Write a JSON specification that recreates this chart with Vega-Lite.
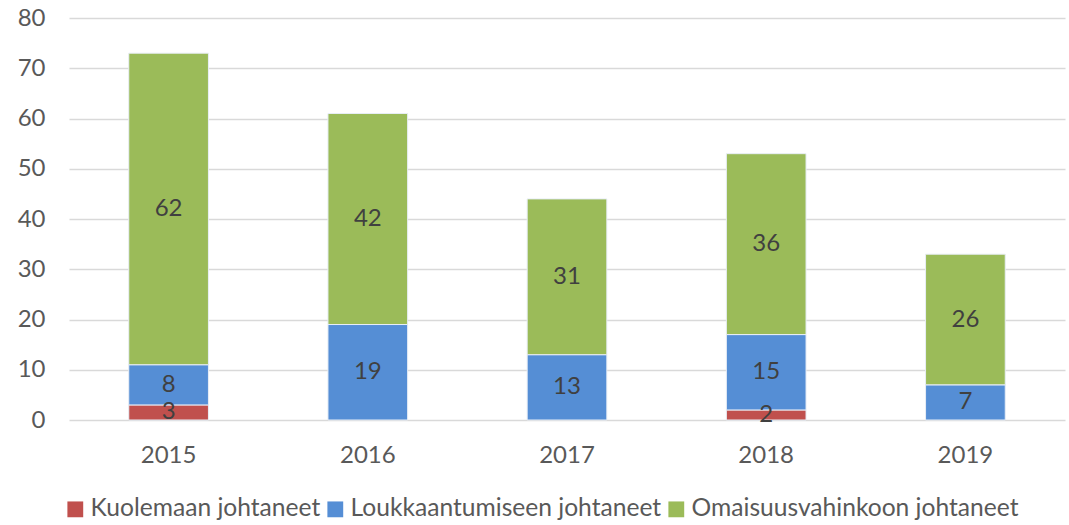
{
  "$schema": "https://vega.github.io/schema/vega-lite/v6.json",
  "width": 996,
  "height": 402,
  "autosize": {"type": "none"},
  "padding": {"left": 69, "top": 18, "right": 4, "bottom": 105},
  "background": "white",
  "config": {
    "font": "Lato",
    "view": {"stroke": null}
  },
  "data": {
    "values": [
      {"year": "2015", "type": "Kuolemaan johtaneet", "value": 3},
      {"year": "2015", "type": "Loukkaantumiseen johtaneet", "value": 8},
      {"year": "2015", "type": "Omaisuusvahinkoon johtaneet", "value": 62},
      {"year": "2016", "type": "Loukkaantumiseen johtaneet", "value": 19},
      {"year": "2016", "type": "Omaisuusvahinkoon johtaneet", "value": 42},
      {"year": "2017", "type": "Loukkaantumiseen johtaneet", "value": 13},
      {"year": "2017", "type": "Omaisuusvahinkoon johtaneet", "value": 31},
      {"year": "2018", "type": "Kuolemaan johtaneet", "value": 2},
      {"year": "2018", "type": "Loukkaantumiseen johtaneet", "value": 15},
      {"year": "2018", "type": "Omaisuusvahinkoon johtaneet", "value": 36},
      {"year": "2019", "type": "Loukkaantumiseen johtaneet", "value": 7},
      {"year": "2019", "type": "Omaisuusvahinkoon johtaneet", "value": 26}
    ]
  },
  "transform": [
    {"stack": "value", "groupby": ["year"], "sort": [{"field": "type", "order": "ascending"}], "as": ["v0", "v1"]},
    {"calculate": "(datum.v0 + datum.v1) / 2", "as": "mid"}
  ],
  "layer": [
    {
      "mark": {"type": "bar", "stroke": "#e8eef6", "strokeWidth": 1},
      "encoding": {
        "x": {
          "field": "year", "type": "nominal",
          "scale": {"paddingInner": 0.6, "paddingOuter": 0.3},
          "axis": {"title": null, "labelAngle": 0, "labelFontSize": 24, "labelColor": "#595959", "labelPadding": 23, "ticks": false, "domain": false, "labelFont": "Lato"}
        },
        "y": {
          "field": "v0", "type": "quantitative",
          "scale": {"domain": [0, 80]},
          "axis": {"title": null, "values": [0, 10, 20, 30, 40, 50, 60, 70, 80], "labelFontSize": 24, "labelColor": "#595959", "labelPadding": 24, "ticks": false, "domain": false, "gridColor": "#d9d9d9", "gridWidth": 1.5, "labelFont": "Lato"}
        },
        "y2": {"field": "v1"},
        "color": {
          "field": "type", "type": "nominal",
          "scale": {
            "domain": ["Kuolemaan johtaneet", "Loukkaantumiseen johtaneet", "Omaisuusvahinkoon johtaneet"],
            "range": ["#c0504d", "#558ed5", "#9bbb59"]
          },
          "legend": {
            "title": null, "orient": "none", "direction": "horizontal",
            "legendX": -6, "legendY": 479,
            "symbolType": "square", "symbolSize": 250, "symbolStrokeWidth": 0,
            "labelFontSize": 24.6, "labelColor": "#595959", "labelFont": "Lato",
            "columnPadding": 2, "labelOffset": 3, "labelLimit": 500
          }
        }
      }
    },
    {
      "mark": {"type": "text", "fontSize": 24, "color": "#404040", "baseline": "middle", "font": "Lato"},
      "encoding": {
        "x": {"field": "year", "type": "nominal"},
        "y": {"field": "mid", "type": "quantitative"},
        "text": {"field": "value", "type": "quantitative"}
      }
    }
  ]
}
